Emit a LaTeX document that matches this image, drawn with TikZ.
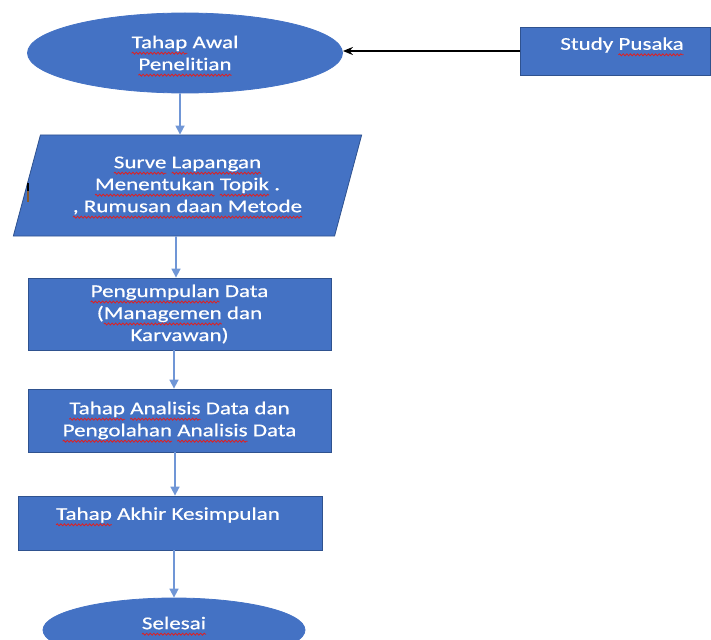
\documentclass[tikz,border=0pt]{standalone}
\usepackage{fontspec}
\setmainfont{Carlito}[FakeStretch=1.28, FakeBold=0.5, Ligatures=NoCommon]
\usetikzlibrary{shapes.geometric,arrows.meta,decorations.pathmorphing}
\definecolor{fillb}{HTML}{4472C4}
\definecolor{edgeb}{HTML}{2F528F}
\definecolor{linkb}{HTML}{7096D6}
\definecolor{sqred}{HTML}{E02020}
\newlength\sqlen
\newcommand\sqw[1]{\setbox0=\hbox{#1}\sqlen=\wd0\leavevmode\rlap{\box0}%
  \tikz[baseline=0pt,x=1pt,y=1pt]{\useasboundingbox (0,0) rectangle (\sqlen,0);
  \draw[sqred, line width=0.8pt, decorate,
    decoration={snake,amplitude=1pt,segment length=3.6pt}] (0,-5) -- (\sqlen,-5);}}
\begin{document}
\begin{tikzpicture}[x=1pt,y=-1pt,
  blk/.style={draw=edgeb, line width=0.8pt, fill=fillb, text=white, inner sep=0pt,
              font=\fontsize{18}{22}\selectfont, align=center},
  oval/.style={blk, ellipse, draw=fillb},
  lbl/.style={text=white, font=\fontsize{18}{22}\selectfont, inner sep=0pt},
  flow/.style={draw=linkb, line width=1.6pt, -{Triangle[length=9pt,width=9pt]}},
  feed/.style={draw=black, line width=1.6pt, -{Stealth[length=10pt,width=8pt]}}]
\useasboundingbox (0,0) rectangle (711,639);
\clip (0,0) rectangle (711,639);

\node[oval, minimum width=315pt, minimum height=80pt] (e1) at (185,53)
  {\sqw{Tahap} Awal\\\sqw{Penelitian}};
\node[blk, minimum width=190pt, minimum height=48pt,
  label={[lbl, xshift=7pt, yshift=6pt]center:Study \sqw{Pusaka}}] (sp) at (615,51) {};
\node[blk, trapezium, trapezium left angle=70, trapezium right angle=110,
  trapezium stretches=true, minimum width=349pt, minimum height=101pt] (para) at (187.5,185.5)
  {\sqw{Surve} \sqw{Lapangan}\\\sqw{Menentukan} \sqw{Topik} .\\\sqw{, Rumusan daan Metode}};
\node[blk, minimum width=303pt, minimum height=72pt] (r2) at (179.5,314)
  {\sqw{Pengumpulan} Data\\(\sqw{Managemen} dan\\Karvawan)};
\node[blk, minimum width=303pt, minimum height=63pt] (r3) at (179.5,420.5)
  {\sqw{Tahap} \sqw{Analisis} Data dan\\\sqw{Pengolahan} \sqw{Analisis} Data};
\node[blk, minimum width=304pt, minimum height=54pt,
  label={[lbl, xshift=-2pt, yshift=8pt]center:\sqw{Tahap} Akhir Kesimpulan}] (r4) at (170,523) {};
\node[oval, minimum width=262pt, minimum height=64pt,
  label={[lbl, yshift=7pt]center:\sqw{Selesai}}] (e2) at (174,630) {};

\draw[feed] (sp.west) -- (sp.west -| e1.east);
\draw[flow] ([xshift=-5pt]e1.south) -- ([xshift=-7.5pt]para.north);
\draw[flow] ([xshift=-11.5pt]para.south) -- ([xshift=-3.5pt]r2.north);
\draw[flow] ([xshift=-5.5pt]r2.south) -- ([xshift=-5.5pt]r3.north);
\draw[flow] ([xshift=-4.5pt]r3.south) -- ([xshift=5pt]r4.north);
\draw[flow] ([xshift=4pt]r4.south) -- (e2.north);

\draw[line width=1.5pt, black] (28,183) -- (28,191);
\draw[line width=1.5pt, brown!70!black] (28,191) -- (28,202);
\end{tikzpicture}
\end{document}
